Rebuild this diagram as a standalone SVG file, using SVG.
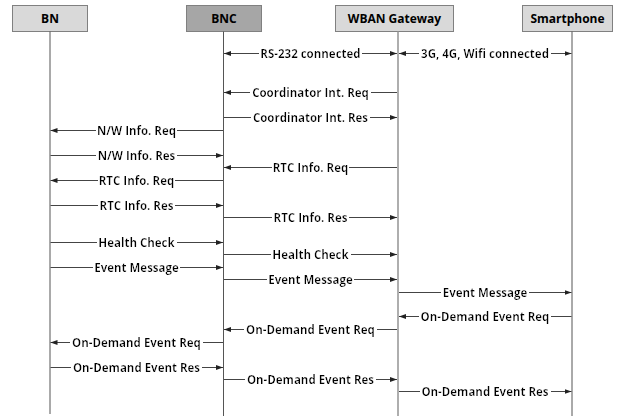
<svg xmlns="http://www.w3.org/2000/svg" width="624" height="417" viewBox="0 0 624 417">
<style>
.box{fill:#d9d9d9;stroke:#808080;stroke-width:1}
.box.dark{fill:#a6a6a6}
.hdr{font-family:"Open Sans","Liberation Sans",sans-serif;font-weight:700;font-size:12px;fill:#000;text-anchor:middle}
.life{stroke:#555;stroke-width:1}
.life.gw{stroke:#9a9a9a;stroke-width:1.6}
.msg{stroke:#444;stroke-width:1;fill:none;marker-end:url(#ah)}
.msg.both{marker-start:url(#ah)}
.lbl{font-family:"Open Sans","Liberation Sans",sans-serif;font-weight:700;font-size:11.5px;fill:#000;text-anchor:middle;filter:url(#bg)}
</style>
<defs>
<marker id="ah" markerUnits="userSpaceOnUse" markerWidth="8" markerHeight="6" refX="7" refY="2.5" orient="auto-start-reverse">
<path d="M0,0 L7,2.5 L0,5 z" fill="#222"/>
</marker>
<filter id="bg" x="-0.01" y="0" width="1.02" height="1">
<feFlood flood-color="#fff"/>
<feComposite in="SourceGraphic"/>
</filter>
</defs>
<rect width="624" height="417" fill="#fff"/>
<g id="node-bn">
<rect class="box" x="12.5" y="5.5" width="75" height="26"/>
<text class="hdr" x="50" y="23">BN</text>
<line class="life" x1="50" y1="31.5" x2="50" y2="414"/>
</g>
<g id="node-bnc">
<rect class="box dark" x="186.5" y="5.5" width="75" height="26"/>
<text class="hdr" x="224" y="23">BNC</text>
<line class="life" x1="223.5" y1="31.5" x2="223.5" y2="416"/>
</g>
<g id="node-wban">
<rect class="box" x="335.5" y="5.5" width="118" height="26"/>
<text class="hdr" x="394.5" y="23">WBAN Gateway</text>
<line class="life gw" x1="398" y1="31.5" x2="398" y2="416"/>
</g>
<g id="node-smartphone">
<rect class="box" x="522.5" y="5.5" width="90" height="26"/>
<text class="hdr" x="567.5" y="23">Smartphone</text>
<line class="life" x1="572" y1="31.5" x2="572" y2="416"/>
</g>
<g id="connectors">
<line class="msg both" x1="224" y1="53.5" x2="397" y2="53.5"/>
<text class="lbl" x="310.5" y="58">RS-232 connected</text>
<line class="msg both" x1="399" y1="53.5" x2="571.5" y2="53.5"/>
<text class="lbl" x="485" y="58">3G, 4G, Wifi connected</text>

<line class="msg" x1="397" y1="92.5" x2="224" y2="92.5"/>
<text class="lbl" x="310.5" y="97">Coordinator Int. Req</text>
<line class="msg" x1="224" y1="117.5" x2="397" y2="117.5"/>
<text class="lbl" x="310.5" y="122">Coordinator Int. Res</text>

<line class="msg" x1="223" y1="130.5" x2="50.5" y2="130.5"/>
<text class="lbl" x="136.5" y="135">N/W Info. Req</text>
<line class="msg" x1="50.5" y1="155.5" x2="223" y2="155.5"/>
<text class="lbl" x="136.5" y="160">N/W Info. Res</text>

<line class="msg" x1="397" y1="167.5" x2="224" y2="167.5"/>
<text class="lbl" x="310.5" y="172">RTC Info. Req</text>
<line class="msg" x1="223" y1="180.5" x2="50.5" y2="180.5"/>
<text class="lbl" x="136.5" y="185">RTC Info. Req</text>
<line class="msg" x1="50.5" y1="205.5" x2="223" y2="205.5"/>
<text class="lbl" x="136.5" y="210">RTC Info. Res</text>
<line class="msg" x1="224" y1="217.5" x2="397" y2="217.5"/>
<text class="lbl" x="310.5" y="222">RTC Info. Res</text>

<line class="msg" x1="50.5" y1="242.5" x2="223" y2="242.5"/>
<text class="lbl" x="136.5" y="247">Health Check</text>
<line class="msg" x1="224" y1="254.5" x2="397" y2="254.5"/>
<text class="lbl" x="310.5" y="259">Health Check</text>

<line class="msg" x1="50.5" y1="267.5" x2="223" y2="267.5"/>
<text class="lbl" x="136.5" y="272">Event Message</text>
<line class="msg" x1="224" y1="279.5" x2="397" y2="279.5"/>
<text class="lbl" x="310.5" y="284">Event Message</text>
<line class="msg" x1="399" y1="292.5" x2="571.5" y2="292.5"/>
<text class="lbl" x="485" y="297">Event Message</text>

<line class="msg" x1="571.5" y1="316.5" x2="399" y2="316.5"/>
<text class="lbl" x="485" y="321">On-Demand Event Req</text>
<line class="msg" x1="397" y1="329.5" x2="224" y2="329.5"/>
<text class="lbl" x="310.5" y="334">On-Demand Event Req</text>
<line class="msg" x1="223" y1="342.5" x2="50.5" y2="342.5"/>
<text class="lbl" x="136.5" y="347">On-Demand Event Req</text>

<line class="msg" x1="50.5" y1="367.5" x2="223" y2="367.5"/>
<text class="lbl" x="136.5" y="372">On-Demand Event Res</text>
<line class="msg" x1="224" y1="379.5" x2="397" y2="379.5"/>
<text class="lbl" x="310.5" y="384">On-Demand Event Res</text>
<line class="msg" x1="399" y1="391.5" x2="571.5" y2="391.5"/>
<text class="lbl" x="485" y="396">On-Demand Event Res</text>
</g>
</svg>
